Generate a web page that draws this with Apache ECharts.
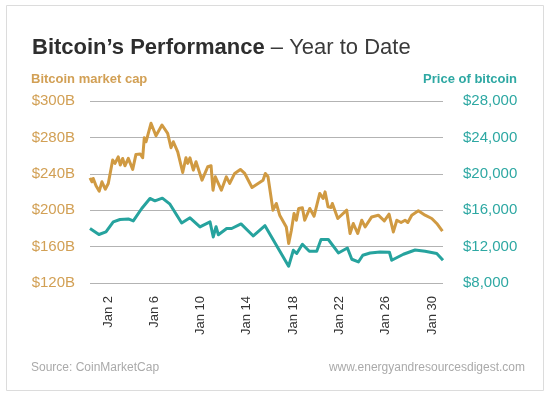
<!DOCTYPE html>
<html>
<head>
<meta charset="utf-8">
<script src="https://cdn.jsdelivr.net/npm/echarts@6/dist/echarts.min.js"></script>
<style>
html,body{margin:0;padding:0;background:#fff;}
#chart{width:550px;height:397px;}
</style>
</head>
<body>
<div id="chart"></div>
<script>
// ---- Data (day of January 2018, fractional where intraday) ----
var capDays = [0.45,0.62,0.73,0.97,1.25,1.48,1.77,2.03,2.41,2.61,2.89,3.07,3.27,3.47,3.76,4.14,4.42,4.79,5.0,5.14,5.29,5.72,6.15,6.67,7.16,7.45,7.65,8.03,8.46,8.74,8.89,9.09,9.38,9.61,10.13,10.62,10.91,11.08,11.28,11.80,12.23,12.52,12.95,13.44,13.82,14.45,15.40,15.60,15.83,16.26,16.55,16.84,17.41,17.62,17.85,18.08,18.28,18.48,18.80,19.00,19.44,19.81,20.30,20.59,20.76,21.02,21.28,21.39,21.86,22.63,22.92,23.20,23.58,23.93,24.22,24.79,25.36,25.88,26.29,26.66,26.96,27.33,27.67,27.91,28.25,28.82,29.40,29.98,30.41,30.90];
var capValues = [235.6,231.2,234.9,226.8,220.9,231.2,223.1,229.4,255.1,251.4,258.7,249.6,256.9,248.8,256.9,244.8,261.3,261.7,257.6,279.6,275.2,295.5,281.8,293.6,284.4,268.6,275.2,264.2,241.5,257.6,251.4,257.6,244.0,253.2,233.0,247.7,248.8,222.0,236.7,222.0,236.7,229.4,240.4,244.8,240.4,225.0,233.0,240.4,236.7,200.0,207.4,194.5,181.6,163.4,178.0,196.4,189.0,201.9,202.6,189.0,201.9,193.4,218.4,212.9,220.2,203.7,203.0,207.4,190.9,200.0,174.4,185.4,174.4,189.0,181.6,192.6,194.5,188.2,195.6,176.1,189.0,186.5,189.0,186.5,194.5,199.3,194.5,190.9,185.4,176.9];

var priceDays = [0.45,1.22,1.83,2.46,3.04,3.76,4.19,4.92,5.63,6.06,6.70,7.36,8.37,9.09,9.95,10.82,11.10,11.34,11.54,12.26,12.69,13.50,14.56,15.57,17.61,18.02,18.31,18.80,19.40,20.04,20.41,21.04,21.91,22.69,23.07,23.64,24.02,24.65,25.51,26.32,26.52,27.53,28.54,29.40,30.41,30.95];
var priceValues = [13990,13330,13610,14710,14980,15040,14820,16190,17290,17030,17320,16660,14600,15160,14160,14710,13060,14190,13300,13990,13990,14490,13170,14300,9840,11600,11240,12260,11490,11490,12780,12780,11300,11850,10610,10310,11050,11300,11410,11380,10500,11160,11630,11490,11240,10500];

var xTickDays = [2,6,10,14,18,22,26,30];
var capTickLabels = ['$120B','$160B','$200B','$240B','$280B','$300B'];
var priceTickLabels = ['$8,000','$12,000','$16,000','$20,000','$24,000','$28,000'];

var titleBold = 'Bitcoin\u2019s Performance';
var titleRest = ' \u2013 Year to Date';
var capName = 'Bitcoin market cap';
var priceName = 'Price of bitcoin';
var sourceText = 'Source: CoinMarketCap';
var siteText = 'www.energyandresourcesdigest.com';

var ORANGE = '#D09A42';
var ORANGE_TXT = '#D2A055';
var TEAL = '#26A39E';
var TEAL_TXT = '#2EA8A3';
var FONT = '"Liberation Sans", Arial, Helvetica, sans-serif';

var chart = echarts.init(document.getElementById('chart'), null, {renderer: 'canvas'});

function pairs(xs, ys) { return xs.map(function (x, i) { return [x, ys[i]]; }); }

var option = {
  backgroundColor: '#fff',
  animation: false,
  textStyle: {fontFamily: FONT},
  title: {
    text: '{b|' + titleBold + '}{n|' + titleRest + '}',
    left: 27,
    top: 32,
    textStyle: {
      rich: {
        b: {fontFamily: FONT, fontSize: 22, fontWeight: 'bold', color: '#2e2e2e'},
        n: {fontFamily: FONT, fontSize: 22, fontWeight: 'normal', color: '#3a3a3a'}
      }
    }
  },
  graphic: [
    {type: 'rect', shape: {x: 6.5, y: 5.5, width: 537, height: 385}, style: {fill: 'none', stroke: '#dcdcdc', lineWidth: 1}, z: -1},
    {type: 'text', left: 31, top: 73, style: {text: capName, fill: ORANGE_TXT, font: 'bold 13px ' + FONT}},
    {type: 'text', right: 33, top: 73, style: {text: priceName, fill: TEAL_TXT, font: 'bold 13px ' + FONT}},
    {type: 'text', left: 31, top: 362, style: {text: sourceText, fill: '#aaaaaa', font: '12px ' + FONT}},
    {type: 'text', right: 25, top: 362, style: {text: siteText, fill: '#aaaaaa', font: '12px ' + FONT}}
  ],
  grid: {left: 90, right: 107, top: 101, bottom: 114, containLabel: false},
  xAxis: {
    type: 'value',
    min: capDays[0],
    max: priceDays[priceDays.length - 1],
    splitLine: {show: false},
    axisLine: {show: false},
    axisTick: {show: false},
    axisLabel: {
      customValues: xTickDays,
      rotate: 90,
      margin: 13,
      color: '#333',
      fontSize: 13,
      fontFamily: FONT,
      formatter: function (v) { return 'Jan ' + v; }
    }
  },
  yAxis: [
    {
      type: 'value',
      position: 'left',
      min: 120, max: 320, interval: 40,
      axisLine: {show: false},
      axisTick: {show: false},
      splitLine: {show: true, lineStyle: {color: '#b3b3b3', width: 1}},
      axisLabel: {
        margin: 15,
        color: ORANGE_TXT,
        fontSize: 15,
        fontFamily: FONT,
        formatter: function (v) { return capTickLabels[Math.round((v - 120) / 40)]; }
      }
    },
    {
      type: 'value',
      position: 'right',
      min: 8000, max: 28000, interval: 4000,
      axisLine: {show: false},
      axisTick: {show: false},
      splitLine: {show: false},
      axisLabel: {
        margin: 20,
        color: TEAL_TXT,
        fontSize: 15,
        fontFamily: FONT,
        formatter: function (v) { return priceTickLabels[Math.round((v - 8000) / 4000)]; }
      }
    }
  ],
  series: [
    {
      name: capName,
      type: 'line',
      yAxisIndex: 0,
      data: pairs(capDays, capValues),
      showSymbol: false,
      symbol: 'none',
      lineStyle: {color: ORANGE, width: 3, join: 'round'},
      z: 3
    },
    {
      name: priceName,
      type: 'line',
      yAxisIndex: 1,
      data: pairs(priceDays, priceValues),
      showSymbol: false,
      symbol: 'none',
      lineStyle: {color: TEAL, width: 3, join: 'round'},
      z: 2
    }
  ]
};
chart.setOption(option);
</script>
</body>
</html>
